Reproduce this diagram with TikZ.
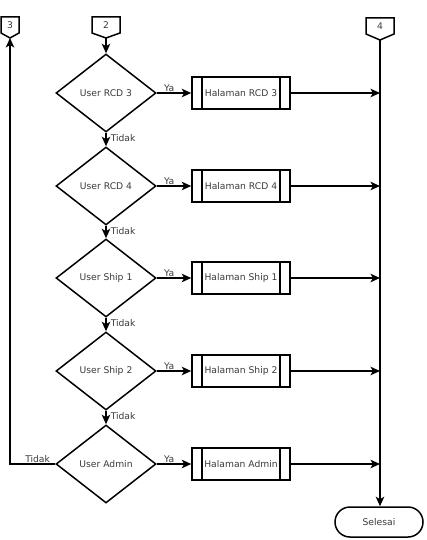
\documentclass[tikz,border=0pt]{standalone}
\usepackage{fontspec}
\setmainfont{DejaVu Sans}
\usetikzlibrary{shapes.geometric,arrows.meta}
\definecolor{txt}{HTML}{3A3A3A}
\begin{document}
\begin{tikzpicture}[x=1pt,y=-1pt,
  lw/.style={line width=1.5pt},
  every node/.style={font=\fontsize{9.2}{11}\selectfont, text=txt},
  dec/.style={diamond, draw, lw, minimum width=100pt, minimum height=78pt, inner sep=0pt},
  proc/.style={rectangle, draw, lw, minimum width=98pt, minimum height=32pt, inner sep=0pt,
    path picture={
      \draw[line width=1.5pt] ([xshift=10pt]path picture bounding box.north west) -- ([xshift=10pt]path picture bounding box.south west);
      \draw[line width=1.5pt] ([xshift=-10pt]path picture bounding box.north east) -- ([xshift=-10pt]path picture bounding box.south east);}},
  term/.style={rectangle, rounded corners=15pt, draw, lw, minimum width=88pt, minimum height=30pt, inner sep=0pt},
  flow/.style={lw, -{Stealth[length=9.5pt,width=8.5pt,inset=2.5pt]}},
  conn/.style={lw},
  lbl/.style={inner sep=1pt}
]
\useasboundingbox (0,0) rectangle (427,540);

% off-page connectors
\draw[conn] (1,17) -- (19,17) -- (19,33) -- (10,38) -- (1,33) -- cycle;
\node (c3) at (10,25) {3};
\coordinate (c3b) at (10,38);
\draw[conn] (92,17) -- (120,17) -- (120,33) -- (106,38) -- (92,33) -- cycle;
\node (c2) at (106,25) {2};
\coordinate (c2b) at (106,38);
\draw[conn] (366,18) -- (394,18) -- (394,34) -- (380,40) -- (366,34) -- cycle;
\node (c4) at (380,26) {4};
\coordinate (c4b) at (380,40);

% decisions
\node[dec] (d1) at (106,93) {User RCD 3};
\node[dec] (d2) at (106,186) {User RCD 4};
\node[dec] (d3) at (106,278) {User Ship 1};
\node[dec] (d4) at (106,371) {User Ship 2};
\node[dec] (d5) at (106,464) {User Admin};

% processes
\node[proc] (p1) at (241,93) {Halaman RCD 3};
\node[proc] (p2) at (241,186) {Halaman RCD 4};
\node[proc] (p3) at (241,278) {Halaman Ship 1};
\node[proc] (p4) at (241,371) {Halaman Ship 2};
\node[proc] (p5) at (241,464) {Halaman Admin};

\node[term] (se) at (379,522) {Selesai};

% junctions on the right line
\coordinate (j1) at (380,93);
\coordinate (j2) at (380,186);
\coordinate (j3) at (380,278);
\coordinate (j4) at (380,371);
\coordinate (j5) at (380,464);
\coordinate (k) at (10,464);

% connectors
\draw[flow] (c2b) -- (d1.north);
\draw[flow] (d1.south) -- node[lbl, anchor=west, pos=0.4, xshift=3pt] {Tidak} (d2.north);
\draw[flow] (d2.south) -- node[lbl, anchor=west, pos=0.4, xshift=3pt] {Tidak} (d3.north);
\draw[flow] (d3.south) -- node[lbl, anchor=west, pos=0.4, xshift=3pt] {Tidak} (d4.north);
\draw[flow] (d4.south) -- node[lbl, anchor=west, pos=0.4, xshift=3pt] {Tidak} (d5.north);

\draw[flow] (d1.east) -- node[lbl, above, pos=0.36] {Ya} (p1.west);
\draw[flow] (d2.east) -- node[lbl, above, pos=0.36] {Ya} (p2.west);
\draw[flow] (d3.east) -- node[lbl, above, pos=0.36] {Ya} (p3.west);
\draw[flow] (d4.east) -- node[lbl, above, pos=0.36] {Ya} (p4.west);
\draw[flow] (d5.east) -- node[lbl, above, pos=0.36] {Ya} (p5.west);

\draw[flow] (p1.east) -- (j1);
\draw[flow] (p2.east) -- (j2);
\draw[flow] (p3.east) -- (j3);
\draw[flow] (p4.east) -- (j4);
\draw[flow] (p5.east) -- (j5);

\draw[flow] (c4b) -- (c4b |- se.north);

\draw[flow] (d5.west) -- node[lbl, above, pos=0.39] {Tidak} (k) -- (c3b);
\end{tikzpicture}
\end{document}
